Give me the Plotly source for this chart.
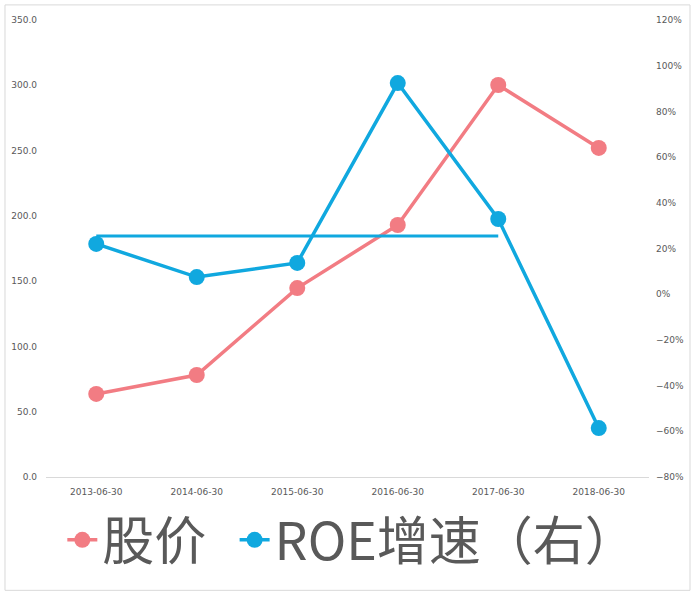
import plotly.graph_objects as go

# data
dates = ['2013-06-30', '2014-06-30', '2015-06-30', '2016-06-30', '2017-06-30', '2018-06-30']
price = [63.6, 78.1, 144.7, 193.0, 300.2, 252.0]
roe_growth = [0.220, 0.075, 0.137, 0.924, 0.329, -0.586]
avg_dates = ['2013-06-30', '2017-06-30']
avg_roe = [0.255, 0.255]

red = '#F27C83'
blue = '#10A8DF'
grey = '#595959'

fig = go.Figure()

fig.add_trace(go.Scatter(
    x=dates, y=price, name='股价  ', mode='lines+markers',
    line=dict(color=red, width=3.5), marker=dict(color=red, size=16),
))
fig.add_trace(go.Scatter(
    x=dates, y=roe_growth, name='ROE增速（右）', mode='lines+markers', yaxis='y2',
    line=dict(color=blue, width=3.5), marker=dict(color=blue, size=16),
))
fig.add_trace(go.Scatter(
    x=avg_dates, y=avg_roe, mode='lines', yaxis='y2', showlegend=False,
    line=dict(color=blue, width=3), hoverinfo='skip',
))

fig.update_layout(
    width=700, height=596,
    margin=dict(l=46, r=51, t=20, b=119),
    paper_bgcolor='white', plot_bgcolor='white',
    font=dict(family='DejaVu Sans', color=grey, size=9),
    xaxis=dict(
        type='category', range=[-0.5, 5.5], showgrid=False, automargin=False,
        showline=True, linecolor='#D9D9D9', linewidth=1,
        ticks='', tickfont=dict(size=9, color=grey), ticklabelstandoff=6,
    ),
    yaxis=dict(
        range=[0, 350], dtick=50, tickformat='.1f', showgrid=False, automargin=False,
        zeroline=False, showline=False, tickfont=dict(size=9, color=grey),
        ticklabelstandoff=8,
    ),
    yaxis2=dict(
        range=[-0.8, 1.2], dtick=0.2, tickformat='.0%', overlaying='y', side='right',
        showgrid=False, zeroline=False, showline=False, automargin=False,
        tickfont=dict(size=9, color=grey), ticklabelstandoff=6,
    ),
    legend=dict(
        orientation='h', x=0.508, xanchor='center', y=-0.138, yanchor='middle',
        font=dict(family='Noto Sans CJK SC', size=52, color=grey),
        itemwidth=30, bgcolor='rgba(0,0,0,0)',
    ),
    shapes=[dict(
        type='rect', xref='paper', yref='paper',
        x0=-0.068, x1=1.068, y0=-0.248, y1=1.033,
        line=dict(color='#D9D9D9', width=1), layer='below',
    )],
)

# drop the browser's default 8px body margin so the figure sits at the window corner
fig.write_html('out.html', config={'displayModeBar': False},
               post_script="document.body.style.margin='0';")
